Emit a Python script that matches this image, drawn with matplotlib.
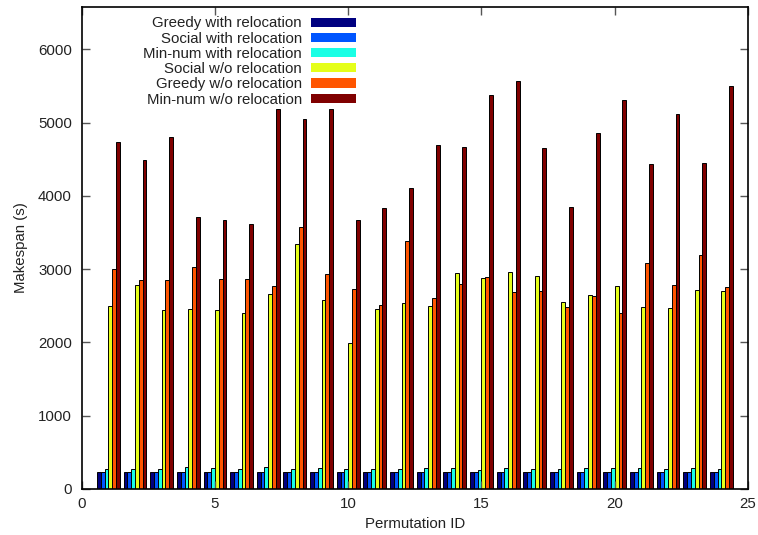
import matplotlib
matplotlib.use("Agg")
import matplotlib.pyplot as plt
import numpy as np

plt.rcParams['font.family'] = ['Liberation Sans', 'DejaVu Sans']
plt.rcParams['font.size'] = 10.8

perm_ids = np.arange(1, 25)

series_names = ["Greedy with relocation", "Social with relocation",
                "Min-num with relocation", "Social w/o relocation",
                "Greedy w/o relocation", "Min-num w/o relocation"]
colors = ['#000080', '#0055ff', '#1affe5', '#e5ff1a', '#ff5500', '#800000']

greedy_reloc = [230] * 24
social_reloc = [230] * 24
minnum_reloc = [269, 269, 269, 296, 282, 275, 296, 269, 282, 269, 269, 269,
                282, 282, 265, 289, 275, 278, 289, 289, 282, 275, 289, 269]
social_noreloc = [2504, 2787, 2441, 2455, 2441, 2409, 2659, 3351, 2578, 1990, 2455, 2537,
                  2504, 2946, 2878, 2969, 2905, 2555, 2650, 2769, 2482, 2468, 2714, 2705]
greedy_noreloc = [3001, 2851, 2851, 3028, 2873, 2873, 2769, 3579, 2937, 2737, 2510, 3379,
                  2605, 2805, 2900, 2691, 2700, 2482, 2641, 2409, 3087, 2787, 3192, 2764]
minnum_noreloc = [4731, 4490, 4809, 3707, 3670, 3616, 5187, 5050, 5191, 3666, 3835, 4108,
                  4695, 4672, 5383, 5565, 4654, 3852, 4863, 5310, 4440, 5118, 4449, 5505]

series = [greedy_reloc, social_reloc, minnum_reloc,
          social_noreloc, greedy_noreloc, minnum_noreloc]

fig = plt.figure(figsize=(7.58, 5.35), dpi=100)
ax = fig.add_axes([81.7 / 758, 1 - 489 / 535, (748 - 81.7) / 758, (489 - 7) / 535])

w = 1.0 / 7
handles = []
for k, (vals, c, name) in enumerate(zip(series, colors, series_names)):
    b = ax.bar(perm_ids + (k - 2.5) * w, vals, width=w, color=c,
               edgecolor='black', linewidth=0.7, label=name)
    handles.append(b)

ax.set_xlim(0, 25)
ax.set_ylim(0, 6580)
ax.set_xticks(np.arange(0, 26, 5))
ax.set_yticks(np.arange(0, 6001, 1000))
ax.tick_params(direction='in', length=6, width=1, color='#555555',
               top=True, right=True, labelcolor='#222222')
ax.tick_params(axis='y', pad=7)
ax.tick_params(axis='x', pad=6)
for s in ax.spines.values():
    s.set_linewidth(1.2)

ax.set_xlabel("Permutation ID", labelpad=4, color='#222222')
ax.set_ylabel("Makespan (s)", labelpad=7, color='#222222')

# markerfirst=False right-aligns rows, so labels end flush against the boxes
leg = ax.legend(handles=handles, markerfirst=False, frameon=False,
                loc='upper right', bbox_to_anchor=(356 / 758, 1 - 16.5 / 535),
                bbox_transform=fig.transFigure, borderpad=0, borderaxespad=0,
                labelspacing=0.08, handlelength=3.0, handleheight=0.55,
                handletextpad=0.6)
for p in leg.get_patches():
    p.set_edgecolor('none')
for t in leg.get_texts():
    t.set_color('#222222')

fig.savefig("out.png", dpi=100)
